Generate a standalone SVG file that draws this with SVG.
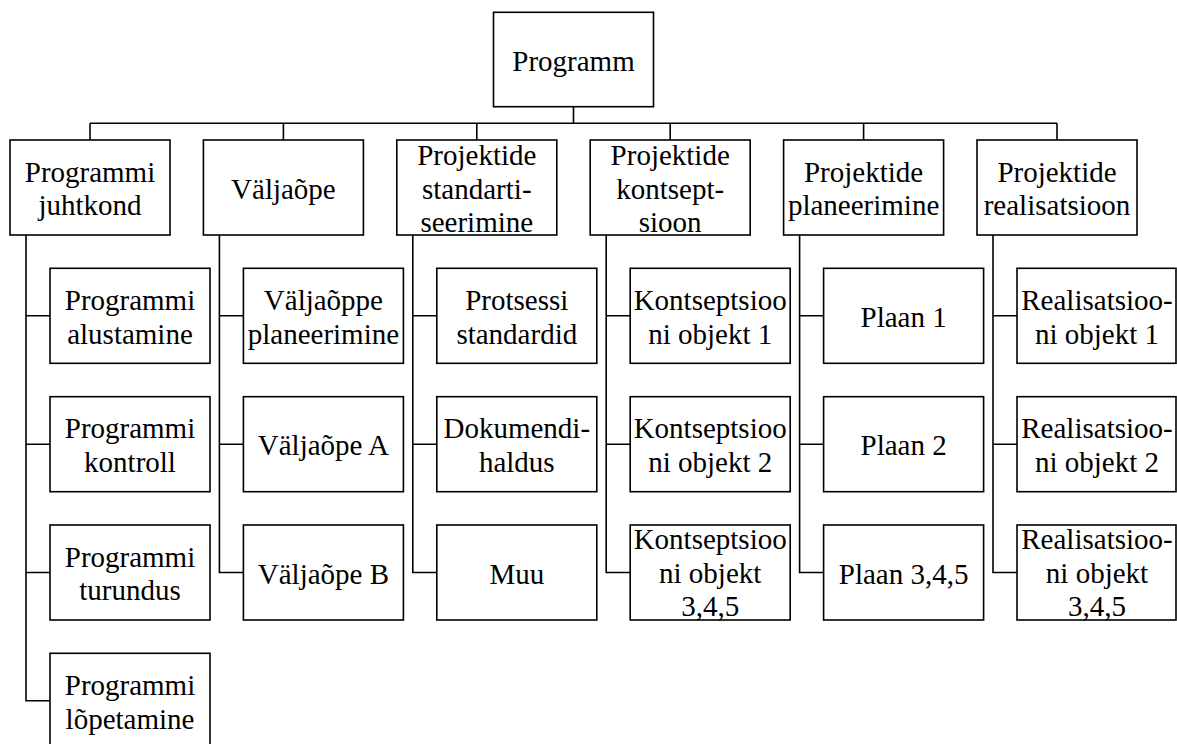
<svg xmlns="http://www.w3.org/2000/svg" width="1177" height="744" viewBox="0 0 1177 744">
  <style>
    .box { fill: #ffffff; stroke: #000000; stroke-width: 1.6; }
    .wire { fill: none; stroke: #000000; stroke-width: 1.6; }
  </style>
  <rect width="1177" height="744" fill="#ffffff"/>

  <!-- connectors -->
  <g id="connectors" class="wire">
    <!-- root stem and top bus -->
    <path d="M573.5,106.7 V123.3 M90,123.3 H1057"/>
    <!-- drops to each top-level box -->
    <path d="M90,123.3 V140 M283.4,123.3 V140 M476.8,123.3 V140 M670.2,123.3 V140 M863.6,123.3 V140 M1057,123.3 V140"/>
    <!-- column spines with elbows into child boxes -->
    <path d="M26,235 V700.8 H50 M26,315.8 H50 M26,444.2 H50 M26,572.5 H50"/>
    <path d="M219.4,235 V572.5 H243.4 M219.4,315.8 H243.4 M219.4,444.2 H243.4"/>
    <path d="M412.8,235 V572.5 H436.8 M412.8,315.8 H436.8 M412.8,444.2 H436.8"/>
    <path d="M606.2,235 V572.5 H630.2 M606.2,315.8 H630.2 M606.2,444.2 H630.2"/>
    <path d="M799.6,235 V572.5 H823.6 M799.6,315.8 H823.6 M799.6,444.2 H823.6"/>
    <path d="M993,235 V572.5 H1017 M993,315.8 H1017 M993,444.2 H1017"/>
  </g>

  <g id="nodes" font-family="'Liberation Serif', 'Times New Roman', serif" font-size="29" fill="#000000" text-anchor="middle">
  <!-- root -->
  <g id="programm">
    <rect class="box" x="493.5" y="12.3" width="160" height="94.4"/>
    <text x="573.5" y="70.5">Programm</text>
  </g>

  <!-- top level -->
  <g id="juhtkond">
    <rect class="box" x="10" y="140" width="160" height="95"/>
    <text x="90" y="181.7">Programmi</text>
    <text x="90" y="215.2">juhtkond</text>
  </g>
  <g id="valjaope">
    <rect class="box" x="203.4" y="140" width="160" height="95"/>
    <text x="283.4" y="198.5">Väljaõpe</text>
  </g>
  <g id="standardiseerimine">
    <rect class="box" x="396.8" y="140" width="160" height="95"/>
    <text x="476.8" y="165">Projektide</text>
    <text x="476.8" y="198.5">standarti-</text>
    <text x="476.8" y="232">seerimine</text>
  </g>
  <g id="kontseptsioon">
    <rect class="box" x="590.2" y="140" width="160" height="95"/>
    <text x="670.2" y="165">Projektide</text>
    <text x="670.2" y="198.5">kontsept-</text>
    <text x="670.2" y="232">sioon</text>
  </g>
  <g id="planeerimine">
    <rect class="box" x="783.6" y="140" width="160" height="95"/>
    <text x="863.6" y="181.7">Projektide</text>
    <text x="863.6" y="215.2">planeerimine</text>
  </g>
  <g id="realisatsioon">
    <rect class="box" x="977" y="140" width="160" height="95"/>
    <text x="1057" y="181.7">Projektide</text>
    <text x="1057" y="215.2">realisatsioon</text>
  </g>

  <!-- column 1 -->
  <g id="alustamine">
    <rect class="box" x="50" y="268.3" width="160" height="95"/>
    <text x="130" y="310">Programmi</text>
    <text x="130" y="343.5">alustamine</text>
  </g>
  <g id="kontroll">
    <rect class="box" x="50" y="396.7" width="160" height="95"/>
    <text x="130" y="438.4">Programmi</text>
    <text x="130" y="471.9">kontroll</text>
  </g>
  <g id="turundus">
    <rect class="box" x="50" y="525" width="160" height="95"/>
    <text x="130" y="566.7">Programmi</text>
    <text x="130" y="600.2">turundus</text>
  </g>
  <g id="lopetamine">
    <rect class="box" x="50" y="653.3" width="160" height="95"/>
    <text x="130" y="695">Programmi</text>
    <text x="130" y="728.5">lõpetamine</text>
  </g>

  <!-- column 2 -->
  <g id="valjaoppe-planeerimine">
    <rect class="box" x="243.4" y="268.3" width="160" height="95"/>
    <text x="323.4" y="310">Väljaõppe</text>
    <text x="323.4" y="343.5">planeerimine</text>
  </g>
  <g id="valjaope-a">
    <rect class="box" x="243.4" y="396.7" width="160" height="95"/>
    <text x="323.4" y="455.2">Väljaõpe A</text>
  </g>
  <g id="valjaope-b">
    <rect class="box" x="243.4" y="525" width="160" height="95"/>
    <text x="323.4" y="583.5">Väljaõpe B</text>
  </g>

  <!-- column 3 -->
  <g id="protsessi-standardid">
    <rect class="box" x="436.8" y="268.3" width="160" height="95"/>
    <text x="516.8" y="310">Protsessi</text>
    <text x="516.8" y="343.5">standardid</text>
  </g>
  <g id="dokumendihaldus">
    <rect class="box" x="436.8" y="396.7" width="160" height="95"/>
    <text x="516.8" y="438.4">Dokumendi-</text>
    <text x="516.8" y="471.9">haldus</text>
  </g>
  <g id="muu">
    <rect class="box" x="436.8" y="525" width="160" height="95"/>
    <text x="516.8" y="583.5">Muu</text>
  </g>

  <!-- column 4 -->
  <g id="kontseptsiooni-objekt-1">
    <rect class="box" x="630.2" y="268.3" width="160" height="95"/>
    <text x="710.2" y="310">Kontseptsioo</text>
    <text x="710.2" y="343.5">ni objekt 1</text>
  </g>
  <g id="kontseptsiooni-objekt-2">
    <rect class="box" x="630.2" y="396.7" width="160" height="95"/>
    <text x="710.2" y="438.4">Kontseptsioo</text>
    <text x="710.2" y="471.9">ni objekt 2</text>
  </g>
  <g id="kontseptsiooni-objekt-345">
    <rect class="box" x="630.2" y="525" width="160" height="95"/>
    <text x="710.2" y="549">Kontseptsioo</text>
    <text x="710.2" y="582.5">ni objekt</text>
    <text x="710.2" y="616">3,4,5</text>
  </g>

  <!-- column 5 -->
  <g id="plaan-1">
    <rect class="box" x="823.6" y="268.3" width="160" height="95"/>
    <text x="903.6" y="326.8">Plaan 1</text>
  </g>
  <g id="plaan-2">
    <rect class="box" x="823.6" y="396.7" width="160" height="95"/>
    <text x="903.6" y="455.2">Plaan 2</text>
  </g>
  <g id="plaan-345">
    <rect class="box" x="823.6" y="525" width="160" height="95"/>
    <text x="903.6" y="583.5">Plaan 3,4,5</text>
  </g>

  <!-- column 6 -->
  <g id="realisatsiooni-objekt-1">
    <rect class="box" x="1017" y="268.3" width="159" height="95"/>
    <text x="1097" y="310">Realisatsioo-</text>
    <text x="1097" y="343.5">ni objekt 1</text>
  </g>
  <g id="realisatsiooni-objekt-2">
    <rect class="box" x="1017" y="396.7" width="159" height="95"/>
    <text x="1097" y="438.4">Realisatsioo-</text>
    <text x="1097" y="471.9">ni objekt 2</text>
  </g>
  <g id="realisatsiooni-objekt-345">
    <rect class="box" x="1017" y="525" width="159" height="95"/>
    <text x="1097" y="549">Realisatsioo-</text>
    <text x="1097" y="582.5">ni objekt</text>
    <text x="1097" y="616">3,4,5</text>
  </g>
  </g>
</svg>
